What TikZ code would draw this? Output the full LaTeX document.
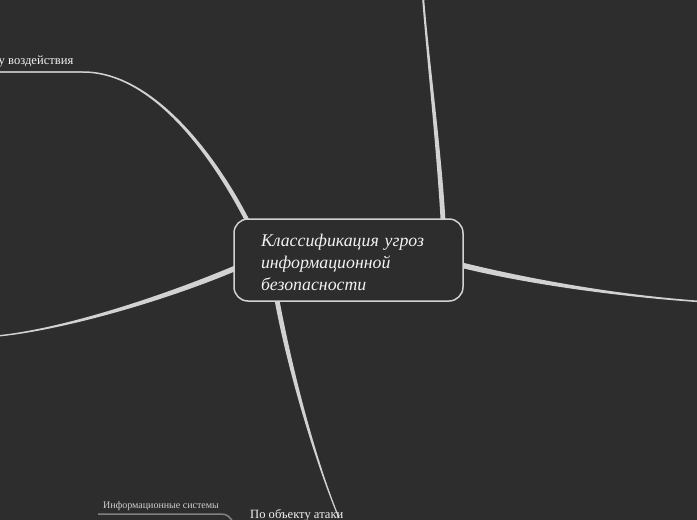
\documentclass[tikz,border=0pt]{standalone}
\usepackage{fontspec}
\setmainfont{Liberation Serif}
\usetikzlibrary{calc}
\definecolor{bg}{HTML}{2D2D2D}
\definecolor{branchcol}{HTML}{D2D2D2}
\definecolor{txt}{HTML}{F2F2F2}
\definecolor{thincol}{HTML}{808080}
\tikzset{
  branch/.style={fill=branchcol},
  centerbox/.style={draw=branchcol, line width=1.5pt, rounded corners=14pt, fill=bg,
     minimum width=229pt, minimum height=82pt, inner sep=0pt},
  titletext/.style={inner xsep=0pt, inner ysep=0pt, text width=175pt, align=left, text=txt,
     font=\fontsize{17.8}{22}\selectfont\itshape},
  label/.style={text=txt, inner sep=0pt, font=\fontsize{12.6}{14}\selectfont},
  smalllabel/.style={text=txt!85!black, inner sep=0pt, font=\fontsize{10}{12}\selectfont},
}
% tapered branch: #1 start, #2 ctrl1, #3 ctrl2, #4 end, #5 half width at start, #6 half width at end
\newcommand\taperbranch[6]{%
  \coordinate (tA1) at ($(#1)!#5!90:(#2)$);
  \coordinate (tA2) at ($(#1)!#5!-90:(#2)$);
  \coordinate (tB1) at ($(#4)!#6!-90:(#3)$);
  \coordinate (tB2) at ($(#4)!#6!90:(#3)$);
  \fill[branch] (tA1) .. controls ($(#2)+(tA1)-(#1)$) and ($(#3)+(tB1)-(#4)$) .. (tB1)
     -- (tB2) .. controls ($(#3)+(tB2)-(#4)$) and ($(#2)+(tA2)-(#1)$) .. (tA2) -- cycle;}
\begin{document}
\begin{tikzpicture}[x=1pt,y=-1pt]
\fill[bg] (0,0) rectangle (697,520);
\useasboundingbox (0,0) rectangle (697,520);

% end points
\coordinate (topEnd) at (423,-3);
\coordinate (ulEnd) at (83,72);
\coordinate (ulFar) at (-3,72);
\coordinate (llEnd) at (-3,336);
\coordinate (rEnd) at (700,301.5);
\coordinate (bEnd) at (339,518);

% branches
\taperbranch{443,220}{439,150}{428,60}{423,-3}{2.4pt}{1pt}
\taperbranch{247,220}{208,145}{148,72}{83,72}{2.2pt}{0.75pt}
\draw[branchcol!85!black, line width=1.4pt] (ulEnd) -- (ulFar);
\taperbranch{236,268}{160,300}{60,330}{-3,336}{2.7pt}{0.7pt}
\taperbranch{461,265}{530,282}{620,296}{700,301.5}{2.7pt}{0.8pt}
\taperbranch{277,300}{290,370}{315,460}{339,518}{2.4pt}{0.6pt}

% small branch at bottom left
\draw[thincol, line width=1.5pt] (98,514) -- (221,514) .. controls (227,514) and (230,517) .. (233,522);

% central node
\node[centerbox] (c) at (348.5,260) {};
\node[titletext] (title) at ($(c.center)+(0,2.5)$) {Классификация угроз\\информационной\\безопасности};

% labels
\node[label, anchor=base west] (voz) at (-1.5,64) {у воздействия};
\node[label, anchor=base west] (obj) at (250,518) {По объекту атаки};
\node[smalllabel, anchor=base west] (info) at (103,508.5) {Информационные системы};
\end{tikzpicture}
\end{document}
